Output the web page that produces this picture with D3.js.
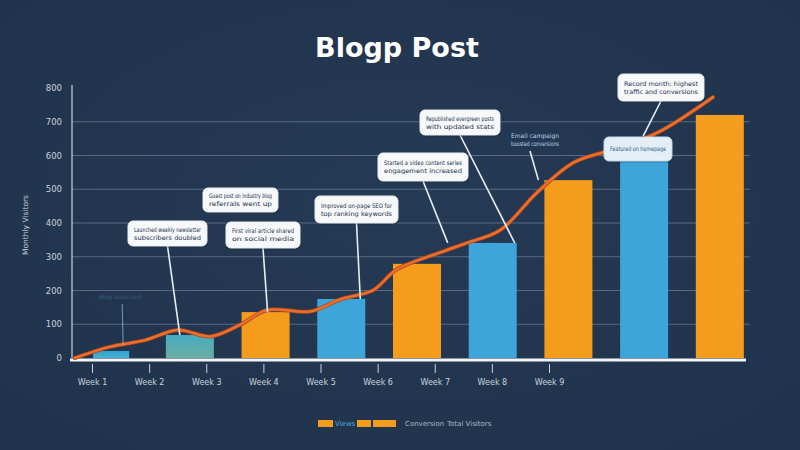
<!DOCTYPE html>
<html>
<head>
<meta charset="utf-8">
<script src="https://cdn.jsdelivr.net/npm/d3@7/dist/d3.min.js"></script>
<style>
  html, body { margin: 0; padding: 0; background: #233650; }
  svg { display: block; }
</style>
</head>
<body>
<svg id="chart" width="800" height="450"></svg>
<script>
// ---------- DATA ----------
const categories = ["Week 1", "Week 2", "Week 3", "Week 4", "Week 5", "Week 6", "Week 7", "Week 8", "Week 9"];
const barValues  = [21, 68, 136, 175, 279, 341, 527, 622, 720];
// trend line: position in weeks (0 = Week 1) and value
const trendWeeks  = [-0.52, -0.06, 0.41, 0.84, 1.27, 1.66, 2.02, 2.59, 2.99, 3.42, 3.73, 4.30, 4.66, 5.10, 5.58, 6.06, 6.55, 7.17, 7.91];
const trendValues = [0, 33, 53, 83, 64, 98, 142, 138, 174, 201, 262, 312, 341, 379, 489, 578, 616, 667, 773];
const yTicks     = [0, 100, 200, 300, 400, 500, 600, 700, 800];
const legendNames = ["Views", "Conversion", "Total Visitors"];
const calloutTexts = [
  ["Launched weekly newsletter", "subscribers doubled"],
  ["Guest post on industry blog", "referrals went up"],
  ["First viral article shared", "on social media"],
  ["Improved on-page SEO for", "top ranking keywords"],
  ["Started a video content series", "engagement increased"],
  ["Republished evergreen posts", "with updated stats"],
  ["Email campaign", "boosted conversions"],
  ["Featured on homepage"],
  ["Record month: highest", "traffic and conversions"]
];

// ---------- STYLE / LAYOUT ----------
const barColors = ["#3aa6d3", "#5aaeb8", "#f59c1c", "#3ea5da", "#f59c1c", "#3ea5da", "#f59c1c", "#3ea5da", "#f59c1c"];
const lineColor = "#e8702a";
const calloutLayout = [
  {x:128, y:221, w:79, h:25, tip:{i:1, s:"bar", dx:-10}},
  {x:203, y:188, w:75, h:24, tip:null},
  {x:226, y:222, w:74, h:26, tip:{i:2, s:"bar", dx:2}},
  {x:315, y:196, w:83, h:27, tip:{i:3, s:"bar", dx:19}},
  {x:378, y:153, w:90, h:28, tip:{i:5, s:"bar", dx:-45}},
  {x:420, y:110, w:80, h:25, tip:{i:5, s:"bar", dx:22}},
  {x:505, y:129, w:60, h:22, tip:{i:6, s:"bar", dx:-30}, plain:true},
  {x:604, y:137, w:68, h:24, tip:null, tinted:true},
  {x:618, y:74,  w:86, h:27, tip:{i:7, s:"bar", dx:-1, dy:-12}}
];

const svg = d3.select("#chart");
const W = 800, H = 450;

svg.append("rect").attr("width", W).attr("height", H).attr("fill", "#233650");
const defs = svg.append("defs");
const rg = defs.append("radialGradient").attr("id", "vig").attr("cx", "50%").attr("cy", "45%").attr("r", "75%");
rg.append("stop").attr("offset", "0%").attr("stop-color", "#253a55");
rg.append("stop").attr("offset", "100%").attr("stop-color", "#20324b");
svg.append("rect").attr("width", W).attr("height", H).attr("fill", "url(#vig)");

const tealGrad = defs.append("linearGradient").attr("id", "teal").attr("x1", 0).attr("y1", 0).attr("x2", 0).attr("y2", 1);
tealGrad.append("stop").attr("offset", "0%").attr("stop-color", "#46abc6");
tealGrad.append("stop").attr("offset", "100%").attr("stop-color", "#6aae9e");
const blueGrad = defs.append("linearGradient").attr("id", "blue1").attr("x1", 0).attr("y1", 0).attr("x2", 0).attr("y2", 1);
blueGrad.append("stop").attr("offset", "0%").attr("stop-color", "#2f9fd0");
blueGrad.append("stop").attr("offset", "100%").attr("stop-color", "#46b2cf");

// ---------- SCALES ----------
const y = d3.scaleLinear().domain([0, 800]).range([358, 88]);
const x = d3.scaleBand().domain(categories).range([72, 762]).paddingInner(0.366).paddingOuter(0.24);
const xLab = d3.scalePoint().domain(categories).range([92, 549]);
const cx = c => x(c) + x.bandwidth() / 2;
const xWeek = d3.scaleLinear().domain([0, categories.length - 1]).range([cx(categories[0]), cx(categories[categories.length - 1])]);

// ---------- TITLE ----------
svg.append("text")
  .attr("x", 397).attr("y", 57)
  .attr("text-anchor", "middle")
  .attr("font-family", "DejaVu Sans, sans-serif")
  .attr("font-weight", 700)
  .attr("font-size", 27)
  .attr("fill", "#ffffff")
  .text("Blogp Post");

// ---------- GRID ----------
svg.append("g").selectAll("line")
  .data(yTicks.filter(d => d > 0 && d < 800))
  .join("line")
  .attr("x1", 72).attr("x2", 750)
  .attr("y1", d => y(d)).attr("y2", d => y(d))
  .attr("stroke", "#8c9db3").attr("stroke-opacity", 0.5).attr("stroke-width", 1);

const yAxis = d3.axisLeft(y).tickValues(yTicks).tickSize(0).tickPadding(10).tickFormat(d3.format("d"));
const gy = svg.append("g").attr("transform", "translate(72,0)").call(yAxis);
gy.select(".domain").attr("stroke", "#c9d3df").attr("stroke-width", 1.2).attr("d", `M0,85V${y(0)}`);
gy.selectAll("text").attr("fill", "#c9d2dd").attr("font-size", 8.5).attr("font-family", "DejaVu Sans, sans-serif");

svg.append("text")
  .attr("transform", "translate(28,225) rotate(-90)")
  .attr("text-anchor", "middle")
  .attr("font-family", "DejaVu Sans, sans-serif")
  .attr("font-size", 7.5)
  .attr("fill", "#c9d2dd")
  .text("Monthly Visitors");

// ---------- BARS ----------
svg.append("g").selectAll("rect")
  .data(barValues)
  .join("rect")
  .attr("x", (d, i) => x(categories[i]) + (i === 0 ? 3 : 0))
  .attr("width", (d, i) => x.bandwidth() - (i === 0 ? 12 : 0))
  .attr("y", d => y(d))
  .attr("height", d => y(0) - y(d))
  .attr("fill", (d, i) => i === 0 ? "url(#blue1)" : i === 1 ? "url(#teal)" : barColors[i]);

svg.append("line")
  .attr("x1", 70).attr("x2", 746)
  .attr("y1", y(0) + 2).attr("y2", y(0) + 2)
  .attr("stroke", "#f2f5f8").attr("stroke-width", 3);

const xAxis = d3.axisBottom(xLab).tickSize(9).tickPadding(6);
const gx = svg.append("g").attr("transform", `translate(0,${y(0) + 6})`).call(xAxis);
gx.select(".domain").remove();
gx.selectAll(".tick line").attr("stroke", "#c9d2dd").attr("stroke-width", 1);
gx.selectAll("text").attr("fill", "#c9d2dd").attr("font-size", 8).attr("font-family", "DejaVu Sans, sans-serif");

// ---------- LINE ----------
const linePts = trendWeeks.map((w, i) => [xWeek(w), y(trendValues[i])]);
const lineGen = d3.line().curve(d3.curveCatmullRom.alpha(0.5));
svg.append("path").attr("d", lineGen(linePts))
  .attr("fill", "none").attr("stroke", "#b4441f").attr("stroke-width", 4).attr("stroke-linecap", "round");
svg.append("path").attr("d", lineGen(linePts))
  .attr("fill", "none").attr("stroke", lineColor).attr("stroke-width", 2.5).attr("stroke-linecap", "round");

// ---------- CALLOUTS ----------
function tipPoint(t) {
  return [cx(categories[t.i]) + t.dx, y(barValues[t.i]) + (t.dy || 0)];
}

const faintTip = [cx(categories[0]) + 9, y(barValues[0]) - 6];
svg.append("line")
  .attr("x1", faintTip[0] - 1).attr("y1", 304).attr("x2", faintTip[0]).attr("y2", faintTip[1])
  .attr("stroke", "#9fc3de").attr("stroke-opacity", 0.7).attr("stroke-width", 1);
svg.append("text").attr("x", 120).attr("y", 299).attr("text-anchor", "middle")
  .attr("font-size", 6).attr("font-family", "DejaVu Sans, sans-serif")
  .attr("fill", "#4f7fa6").attr("fill-opacity", 0.5).text("Blog launched");

const cg = svg.append("g");
calloutLayout.forEach((c, k) => {
  const lines = calloutTexts[k];
  if (c.tip) {
    const [tx, ty] = tipPoint(c.tip);
    cg.append("line")
      .attr("x1", c.x + c.w / 2 + (c.plain ? -5 : 0)).attr("y1", c.y + c.h)
      .attr("x2", tx).attr("y2", ty)
      .attr("stroke", "#e6edf4").attr("stroke-width", 1.6);
  }
  if (!c.plain) {
    cg.append("rect")
      .attr("x", c.x + 1).attr("y", c.y + 1.5).attr("width", c.w).attr("height", c.h)
      .attr("rx", 5).attr("fill", "#0f1a2a").attr("fill-opacity", 0.35);
    cg.append("rect")
      .attr("x", c.x).attr("y", c.y).attr("width", c.w).attr("height", c.h)
      .attr("rx", 5)
      .attr("fill", c.tinted ? "#e3eef6" : "#f6f8fa")
      .attr("stroke", c.tinted ? "#c5dbe9" : "#e8edf2").attr("stroke-width", 1);
  }
  const lh = 8;
  const startY = c.y + c.h / 2 - (lines.length - 1) * lh / 2 + 2.2;
  lines.forEach((ln, j) => {
    cg.append("text")
      .attr("x", c.x + c.w / 2).attr("y", startY + j * lh)
      .attr("text-anchor", "middle")
      .attr("font-family", "DejaVu Sans Condensed, DejaVu Sans, sans-serif")
      .attr("font-size", 6.2)
      .attr("fill", c.plain ? "#b9d6ee" : (c.tinted ? "#1f5f8f" : "#22324a"))
      .attr("textLength", c.w - 12)
      .attr("lengthAdjust", "spacingAndGlyphs")
      .text(ln);
  });
});

// ---------- LEGEND ----------
const lg = svg.append("g").attr("font-family", "DejaVu Sans, sans-serif").attr("font-size", 7);
lg.append("rect").attr("x", 318).attr("y", 420).attr("width", 15).attr("height", 7).attr("fill", "#f59c1c");
lg.append("text").attr("x", 335).attr("y", 426).attr("fill", "#4aa8e0").text(legendNames[0]);
lg.append("rect").attr("x", 357).attr("y", 420).attr("width", 14).attr("height", 7).attr("fill", "#f59c1c");
lg.append("rect").attr("x", 373).attr("y", 420).attr("width", 23).attr("height", 7).attr("fill", "#f59c1c");
lg.append("text").attr("x", 405).attr("y", 426).attr("fill", "#aab6c4").text(legendNames[1]);
lg.append("text").attr("x", 447).attr("y", 426).attr("fill", "#aab6c4").text(legendNames[2]);
</script>
</body>
</html>
